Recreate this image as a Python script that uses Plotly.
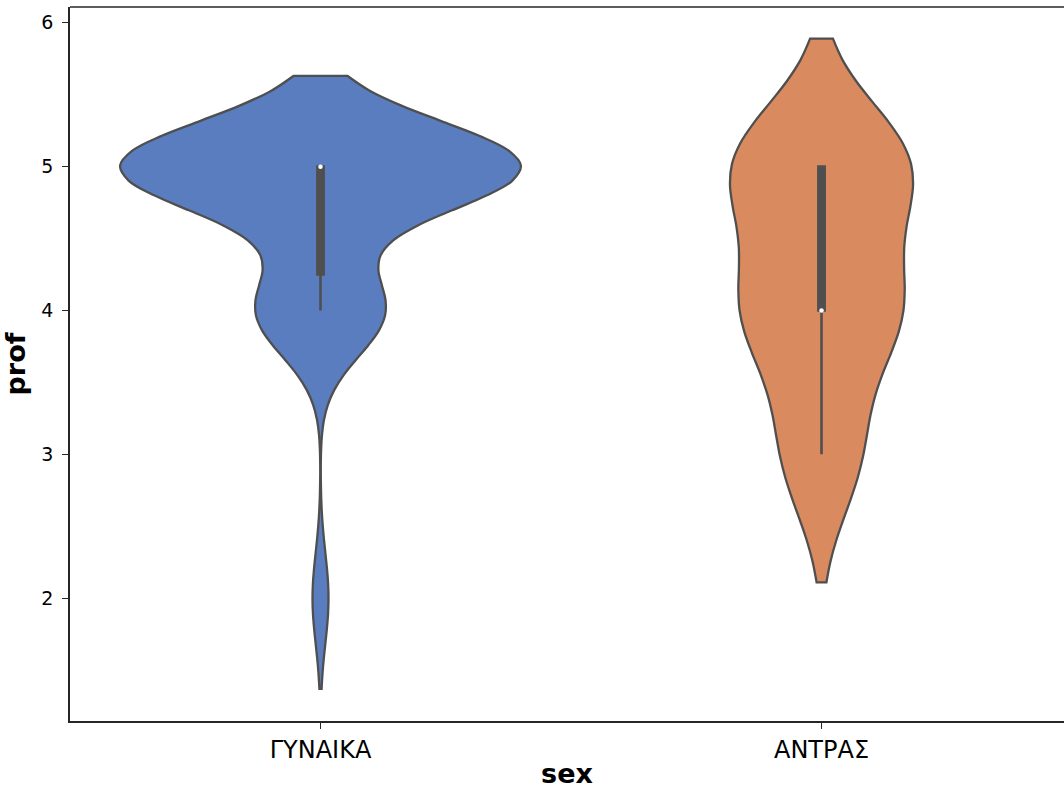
import numpy as np
import plotly.graph_objects as go

# Data (prof scores by sex)
categories = ["ΓΥΝΑΙΚΑ", "ΑΝΤΡΑΣ"]
prof_women = [2] * 1 + [4] * 8 + [5] * 25
prof_men = [3] * 3 + [4] * 6 + [5] * 7
y_ticks = [2, 3, 4, 5, 6]

fill_colors = ["#597dbf", "#d98b5f"]
edge = "#4f4f4f"
axis_col = "#262626"


def scott_bw(vals):
    v = np.asarray(vals, dtype=float)
    return float(np.std(v, ddof=1) * len(v) ** (-1 / 5))


def box_stats(vals):
    v = np.asarray(vals, dtype=float)
    q1, med, q3 = np.percentile(v, [25, 50, 75])
    iqr = q3 - q1
    lo = float(v[v >= q1 - 1.5 * iqr].min())
    hi = float(v[v <= q3 + 1.5 * iqr].max())
    return float(q1), float(med), float(q3), lo, hi


fig = go.Figure()
for cat, vals, col in zip(categories, [prof_women, prof_men], fill_colors):
    fig.add_trace(go.Violin(
        x=[cat] * len(vals), y=vals,
        name=cat, scalegroup="all", scalemode="width",
        bandwidth=scott_bw(vals), spanmode="soft",
        fillcolor=col, opacity=1,
        line=dict(color=edge, width=2.3),
        points=False,
        box=dict(visible=False),
        meanline=dict(visible=False),
        showlegend=False, hoverinfo="skip",
    ))

for cat, vals in zip(categories, [prof_women, prof_men]):
    q1, med, q3, lo, hi = box_stats(vals)
    fig.add_trace(go.Box(
        x=[cat], q1=[q1], median=[med], q3=[q3], lowerfence=[lo], upperfence=[hi],
        width=0.0125, whiskerwidth=0,
        fillcolor=edge, line=dict(color=edge, width=2.6),
        boxpoints=False, showlegend=False, hoverinfo="skip",
    ))

medians = [float(np.median(prof_women)), float(np.median(prof_men))]
fig.add_trace(go.Scatter(
    x=categories, y=medians, mode="markers",
    marker=dict(color="white", size=4.5, line=dict(width=0)),
    showlegend=False, hoverinfo="skip",
))

fig.update_layout(
    width=1064, height=791,
    margin=dict(l=70, r=0, t=7, b=70),
    paper_bgcolor="white", plot_bgcolor="white",
    violinmode="overlay", violingap=0.2, violingroupgap=0,
    boxmode="overlay",
    font=dict(family="DejaVu Sans", color="#000000"),
    xaxis=dict(
        type="category", categoryorder="array", categoryarray=categories,
        range=[-0.5, 1.484],
        showline=True, linecolor=axis_col, linewidth=1.5,
        ticks="outside", ticklen=6, tickwidth=1.2, tickcolor=axis_col,
        tickfont=dict(size=24, family="DejaVu Sans"),
        showgrid=False, zeroline=False,
        title=dict(text="<b>sex</b>", font=dict(size=27, family="DejaVu Sans"), standoff=2),
    ),
    yaxis=dict(
        range=[1.146, 6.11],
        tickvals=y_ticks,
        showline=True, linecolor=axis_col, linewidth=1.5,
        ticks="outside", ticklen=6, tickwidth=1.2, tickcolor=axis_col,
        tickfont=dict(size=19, family="DejaVu Sans"),
        ticklabelstandoff=5,
        showgrid=False, zeroline=False,
        title=dict(text="<b>prof</b>", font=dict(size=27, family="DejaVu Sans"), standoff=8),
    ),
    shapes=[dict(type="line", xref="paper", yref="paper", x0=0, x1=1, y0=1, y1=1,
                 line=dict(color=axis_col, width=1.5))],
)

fig.write_html("out.html", config={"displayModeBar": False},
               post_script="document.body.style.margin='0px';")
